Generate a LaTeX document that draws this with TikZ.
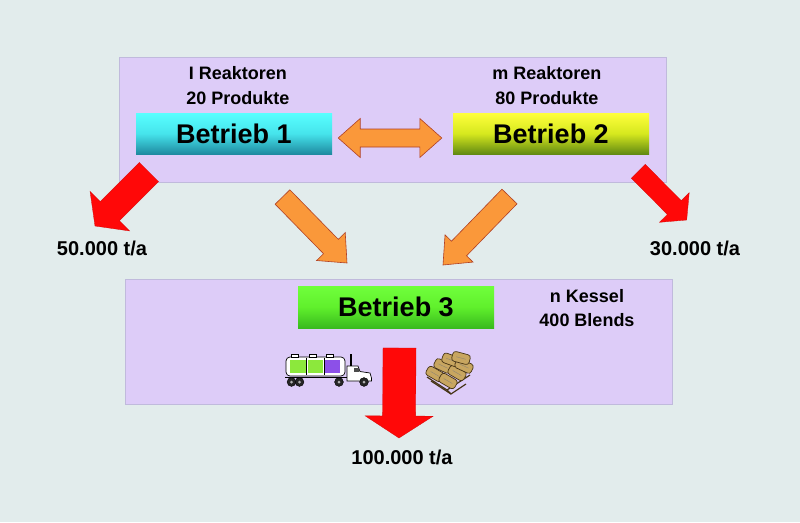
\documentclass[tikz,border=0pt]{standalone}
\usepackage{fontspec}
\setmainfont{Liberation Sans}
\usetikzlibrary{calc}
\definecolor{bg}{RGB}{226,236,236}
\definecolor{panel}{RGB}{221,204,248}
\definecolor{panelline}{RGB}{192,186,220}
\definecolor{orfill}{RGB}{250,152,58}
\definecolor{orline}{RGB}{176,64,36}
\definecolor{redfill}{RGB}{255,8,8}
\definecolor{cyanT}{RGB}{88,255,255}
\definecolor{cyanM}{RGB}{70,228,236}
\definecolor{cyanB}{RGB}{30,138,160}
\definecolor{yelT}{RGB}{255,255,60}
\definecolor{yelM}{RGB}{214,232,30}
\definecolor{yelB}{RGB}{98,138,18}
\definecolor{grnT}{RGB}{112,255,60}
\definecolor{grnM}{RGB}{96,240,44}
\definecolor{grnB}{RGB}{56,186,30}
\definecolor{tankgreen}{RGB}{140,232,60}
\definecolor{tankpurple}{RGB}{140,80,232}
\definecolor{bagfill}{RGB}{200,166,96}
\definecolor{bagline}{RGB}{70,52,22}
\newcommand\blockarr[6]{%
  \coordinate (ba-b) at ($(#3)!#6!(#2)$);
  \draw[#1] ($(#2)!#4!90:(#3)$) -- ($(ba-b)!#4!90:(#3)$) -- ($(ba-b)!#5!90:(#3)$)
    -- (#3) -- ($(ba-b)!#5!-90:(#3)$) -- ($(ba-b)!#4!-90:(#3)$)
    -- ($(#2)!#4!-90:(#3)$) -- cycle;}
\tikzset{
  panelbox/.style={fill=panel, draw=panelline, line width=0.8pt, anchor=north west, inner sep=0pt},
  betrieb/.style={inner sep=0pt, minimum width=196pt, minimum height=41pt,
    font=\fontsize{27}{30}\selectfont\bfseries, text=black},
  lbl/.style={inner sep=0pt, font=\fontsize{18}{20}\selectfont\bfseries, text=black},
  flow/.style={inner sep=0pt, font=\fontsize{20}{22}\selectfont\bfseries, text=black},
  redarr/.style={fill=redfill, draw=redfill!85!black, line width=0.3pt},
  orarr/.style={fill=orfill, draw=orline, line width=0.6pt, line join=miter},
  dark/.style={draw=black, line width=0.7pt}
}
\begin{document}
\begin{tikzpicture}[x=1pt,y=-1pt]
\useasboundingbox (0,0) rectangle (800,522);
\fill[bg] (0,0) rectangle (800,522);

% panels
\node[panelbox, minimum width=547pt, minimum height=125pt] (top) at (119,57) {};
\node[panelbox, minimum width=547pt, minimum height=125pt] (bot) at (125,279) {};

% orange arrows from top panel to Betrieb 3 area
\coordinate (o1t) at (282.5,197);
\coordinate (o1p) at (347,263);
\coordinate (o2t) at (509.5,196.5);
\coordinate (o2p) at (443,265);
\blockarr{orarr}{o1t}{o1p}{10.3pt}{20pt}{23pt}
\blockarr{orarr}{o2t}{o2p}{10.5pt}{19.5pt}{23pt}

% red outflow arrows
\coordinate (r1t) at (149,172);
\coordinate (r1p) at (95,226);
\coordinate (r2t) at (638.3,171.3);
\coordinate (r2p) at (686.7,220);
\blockarr{redarr}{r1t}{r1p}{13.5pt}{28pt}{21pt}
\blockarr{redarr}{r2t}{r2p}{9.8pt}{21pt}{17.6pt}

% Betrieb boxes
\node[betrieb, top color=cyanT, bottom color=cyanB, middle color=cyanM] (b1) at (234,133.5) {Betrieb 1};
\node[betrieb, top color=yelT, bottom color=yelB, middle color=yelM] (b2) at (551,133.5) {Betrieb 2};
\node[betrieb, minimum height=42pt, top color=grnT, bottom color=grnB, middle color=grnM] (b3) at (396,307) {Betrieb 3};

% texts
\node[lbl] (t1a) at (238,73) {I Reaktoren};
\node[lbl] (t1b) at (238,98) {20 Produkte};
\node[lbl] (t2a) at (547,73) {m Reaktoren};
\node[lbl] (t2b) at (547,98) {80 Produkte};
\node[lbl] (t3a) at (587,296) {n Kessel};
\node[lbl] (t3b) at (587,320) {400 Blends};

\node[flow] (f1) at (102,248) {50.000 t/a};
\node[flow] (f2) at (695,248) {30.000 t/a};
\node[flow] (f3) at (402,457) {100.000 t/a};

% double arrow between Betrieb 1 and Betrieb 2
\coordinate (dl) at ($(b1.east)+(6,4.5)$);
\coordinate (dr) at ($(b2.west)+(-11,4.5)$);
\draw[orarr] (dl) -- ++(22,-19.5) -- ++(0,10.5) -- ($(dr)+(-22,-9)$) -- ++(0,-10.5)
  -- (dr) -- ++(-22,19.5) -- ++(0,-10.5) -- ($(dl)+(22,9)$) -- ++(0,10.5) -- cycle;

% down arrow to 100.000 t/a
\coordinate (dt) at (399.5,348);
\coordinate (dp) at (399,438);
\blockarr{redarr}{dt}{dp}{16.5pt}{34pt}{22pt}

% tanker truck icon
\begin{scope}
  \draw[dark, fill=white, rounded corners=4pt] (286,357) rectangle (345,376);
  \fill[tankgreen] (290,360) rectangle (306,373);
  \fill[tankgreen] (307.5,360) rectangle (323,373);
  \fill[tankpurple] (325,360) rectangle (340,373);
  \draw[line width=0.5pt] (306.7,358) -- (306.7,375) (324.2,358) -- (324.2,375);
  \draw[dark, fill=white] (291,354.5) rectangle (298,357);
  \draw[dark, fill=white] (309,354.5) rectangle (316,357);
  \draw[dark, fill=white] (326,354.5) rectangle (333,357);
  \draw[line width=1.4pt] (285,377.5) -- (371,377.5);
  \draw[line width=1.6pt] (351,354) -- (351,375);
  \draw[dark, fill=white] (347,378) -- (347,366) -- (358,366) -- (360,371.5) -- (370,373) -- (371.5,378) -- (371.5,381) -- (347,381) -- cycle;
  \fill[black!70] (354,368) rectangle (358.5,371.5);
  \foreach \wx in {291.5,299.5,339,364}{
    \draw[fill=black!85] (\wx,382) circle (4.4pt);
    \fill[black!30] (\wx,382) circle (1.5pt);
  }
\end{scope}

% bags on pallet icon
\begin{scope}
  \draw[bagline, line width=1.2pt] (427,377) -- (447,390) -- (470,375);
  \draw[bagline, line width=1.2pt] (431,381) -- (451,394) -- (466,384);
  \draw[bagline, line width=1.2pt] (447,390) -- (451,394);
  \foreach \bx/\by/\ang in {435/374/-30, 448/381/-30, 443/366/-25, 457/373/-30, 451/360/-20, 464/366/-25, 461/358/-15}{
    \draw[bagline, fill=bagfill, line width=0.7pt, rounded corners=3pt, rotate around={\ang:(\bx,\by)}]
      (\bx-9,\by-5) rectangle (\bx+9,\by+5);
    \draw[bagline!60, line width=0.4pt, rotate around={\ang:(\bx,\by)}] (\bx-5,\by) -- (\bx+5,\by);
  }
\end{scope}
\end{tikzpicture}
\end{document}
